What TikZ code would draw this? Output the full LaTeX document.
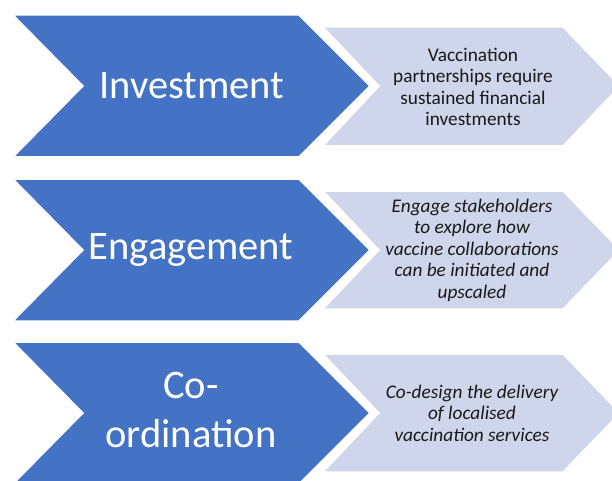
\documentclass[tikz,border=0pt]{standalone}
\usepackage{fontspec}
\setmainfont{Carlito}
\definecolor{chevblue}{HTML}{4472C4}
\definecolor{chevlight}{HTML}{CFD5EA}

\begin{document}
\begin{tikzpicture}[x=1pt, y=-1pt,
  bluechev/.style={fill=chevblue, draw=white, line width=1.5pt},
  lightchev/.style={fill=chevlight, draw=white, line width=1.5pt},
  headtext/.style={text=white, font=\fontsize{40.5}{49}\selectfont, align=center, inner sep=0pt},
  desctext/.style={text=black!90, font=\fontsize{19.3}{21.5}\selectfont, align=center, inner sep=0pt}]
\useasboundingbox (0,0) rectangle (612,481);
\clip (0,0) rectangle (612,481);

% row 1
\fill[bluechev] (13,15) -- (299,15) -- (370,86) -- (299,157) -- (13,157) -- (83,86) -- cycle;
\fill[lightchev] (323,27) -- (563,27) -- (620,86) -- (563,146) -- (323,146) -- (379,86) -- cycle;
\node[headtext] (invest) at (192,86) {Investment};
\node[desctext] (investtxt) at (473,87) {Vaccination\\partnerships require\\sustained financial\\investments};

% row 2
\fill[bluechev] (13,179) -- (299,179) -- (370,250) -- (299,321) -- (13,321) -- (83,250) -- cycle;
\fill[lightchev] (323,191) -- (563,191) -- (620,250) -- (563,309) -- (323,309) -- (379,250) -- cycle;
\node[headtext] (engage) at (191,250) {Engagement};
\node[desctext] (engagetxt) at (472,250) {\itshape Engage stakeholders\\\itshape to explore how\\\itshape vaccine collaborations\\\itshape can be initiated and\\\itshape upscaled};

% row 3
\fill[bluechev] (13,342) -- (299,342) -- (370,413) -- (299,484) -- (13,484) -- (83,413) -- cycle;
\fill[lightchev] (323,354) -- (563,354) -- (620,413) -- (563,472) -- (323,472) -- (379,413) -- cycle;
\node[headtext] (coord) at (191,410) {Co-\\ordination};
\node[desctext] (coordtxt) at (472,413) {\itshape Co-design the delivery\\\itshape of localised\\\itshape vaccination services};
\end{tikzpicture}
\end{document}
